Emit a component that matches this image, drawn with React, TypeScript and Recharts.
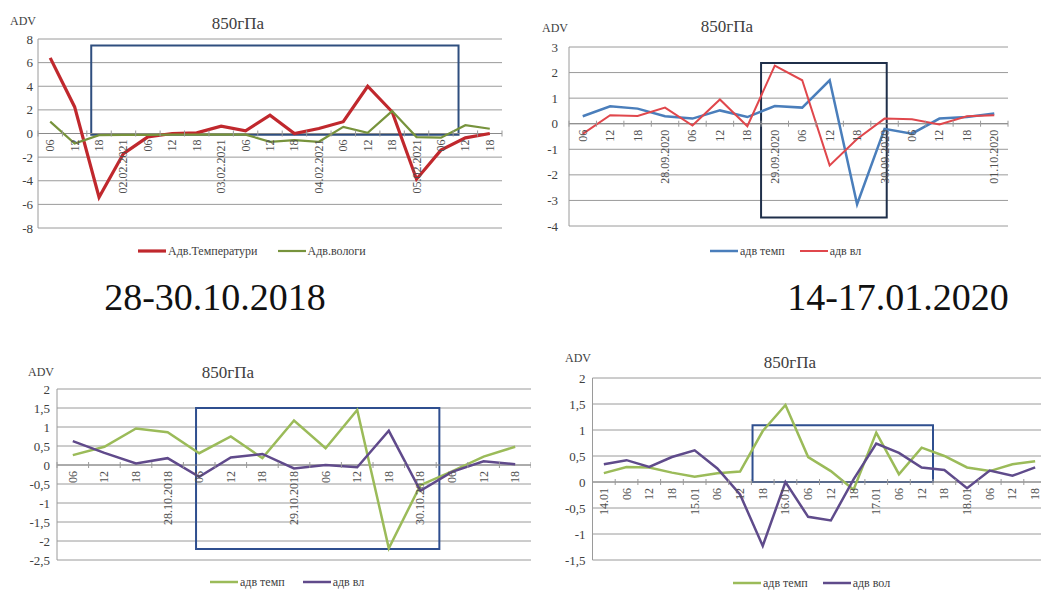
import { LineChart, Line, XAxis, YAxis, CartesianGrid, ReferenceLine, ReferenceArea, ReferenceDot, Legend } from 'recharts';

const FONT = "'Liberation Serif', 'DejaVu Serif', serif";
const TEXT = '#404040';
const GRID = '#9a9a9a';

// 02-05.02.2021, 850 hPa
const p1Categories = ['06', '12', '18', '02.02.2021', '06', '12', '18', '03.02.2021', '06', '12', '18', '04.02.2021', '06', '12', '18', '05.02.2021', '06', '12', '18'];
const p1Temp = [6.4, 2.25, -5.4, -1.7, -0.28, 0.0, 0.05, 0.62, 0.23, 1.55, 0.0, 0.42, 1.0, 4.0, 1.84, -3.87, -1.41, -0.37, 0.0];
const p1Hum = [1.0, -0.85, -0.14, -0.12, -0.12, -0.1, -0.1, -0.1, -0.1, -0.7, -0.56, -0.7, 0.56, 0.05, 1.9, -0.3, -0.35, 0.7, 0.4];
const p1Ticks = [-8, -6, -4, -2, 0, 2, 4, 6, 8];
const p1Box = { x1: 1.68, x2: 16.72, y1: -0.1, y2: 7.45 };

// 28.09-01.10.2020, 850 hPa
const p2Categories = ['06', '12', '18', '28.09.2020', '06', '12', '18', '29.09.2020', '06', '12', '18', '30.09.2020', '06', '12', '18', '01.10.2020'];
const p2Temp = [0.29, 0.68, 0.59, 0.29, 0.2, 0.52, 0.26, 0.69, 0.63, 1.7, -3.15, -0.2, -0.39, 0.2, 0.26, 0.4];
const p2Hum = [-0.4, 0.33, 0.3, 0.63, -0.07, 0.95, -0.1, 2.27, 1.7, -1.63, -0.6, 0.2, 0.17, -0.03, 0.29, 0.33];
const p2Ticks = [-4, -3, -2, -1, 0, 1, 2, 3];
const p2Box = { x1: 6.5, x2: 11.08, y1: -3.67, y2: 2.37 };

// 28-30.10.2018, 850 hPa
const p3Categories = ['06', '12', '18', '28.10.2018', '06', '12', '18', '29.10.2018', '06', '12', '18', '30.10.2018', '06', '12', '18'];
const p3Temp = [0.26, 0.48, 0.96, 0.86, 0.31, 0.75, 0.18, 1.17, 0.44, 1.45, -2.19, -0.53, -0.17, 0.22, 0.48];
const p3Hum = [0.63, 0.32, 0.04, 0.18, -0.31, 0.2, 0.29, -0.09, 0.0, -0.06, 0.9, -0.68, -0.18, 0.1, 0.02];
const p3Ticks = [-2.5, -2, -1.5, -1, -0.5, 0, 0.5, 1, 1.5, 2];
const p3Box = { x1: 3.9, x2: 11.6, y1: -2.21, y2: 1.5 };

// 14-17.01.2020, 850 hPa
const p4Categories = ['14.01', '06', '12', '18', '15.01', '06', '12', '18', '16.01', '06', '12', '18', '17.01', '06', '12', '18', '18.01', '06', '12', '18'];
const p4Temp = [0.17, 0.29, 0.28, 0.18, 0.1, 0.17, 0.2, 0.98, 1.48, 0.48, 0.21, -0.15, 0.95, 0.15, 0.66, 0.5, 0.28, 0.21, 0.34, 0.4];
const p4Hum = [0.34, 0.42, 0.29, 0.48, 0.61, 0.26, -0.24, -1.23, 0.0, -0.67, -0.74, 0.05, 0.74, 0.56, 0.28, 0.23, -0.12, 0.22, 0.12, 0.28];
const p4Ticks = [-1.5, -1, -0.5, 0, 0.5, 1, 1.5, 2];
const p4Box = { x1: 6.55, x2: 14.5, y1: 0, y2: 1.09 };

interface SeriesDef {
  key: string;
  name: string;
  color: string;
  width: number;
  values: number[];
}

interface Box {
  x1: number;
  x2: number;
  y1: number;
  y2: number;
}

interface PanelProps {
  left: number;
  top: number;
  width: number;
  height: number;
  margin: { top: number; right: number; bottom: number; left: number };
  yWidth: number;
  tickGap: number;
  categories: string[];
  series: SeriesDef[];
  yTicks: number[];
  box: Box;
  boxColor: string;
  titleAt: { x: number; y: number };
  advAt: { x: number; y: number };
  legendAt: { x: number; y: number; gap: number };
}

const comma = (v: number) => String(v).replace('.', ',');

// rotated category label hanging under the zero line
const CategoryLabel = (props: any) => {
  const { cx, cy, text } = props;
  const y = cy + 6;
  return (
    <text
      x={cx}
      y={y}
      transform={`rotate(-90 ${cx} ${y})`}
      textAnchor="end"
      dominantBaseline="central"
      fontSize={12}
      style={{ fontFamily: FONT }}
      fill="#505050"
    >
      {text}
    </text>
  );
};

const AxisTick = (props: any) => {
  const { cx, cy } = props;
  return <line x1={cx} x2={cx} y1={cy - 3} y2={cy + 3} stroke={GRID} strokeWidth={1} />;
};

const Panel = ({
  left, top, width, height, margin, yWidth, tickGap,
  categories, series, yTicks, box, boxColor, titleAt, advAt, legendAt,
}: PanelProps) => {
  const rows = categories.map((label, i) => {
    const row: Record<string, number | string> = { i, label };
    series.forEach((s) => { row[s.key] = s.values[i]; });
    return row;
  });
  const n = categories.length;
  const yMin = yTicks[0];
  const yMax = yTicks[yTicks.length - 1];

  // keep the legend in series order
  const legendContent = () => (
    <div style={{ display: 'flex', alignItems: 'center', gap: legendAt.gap, fontFamily: FONT, fontSize: 12, color: TEXT, whiteSpace: 'nowrap', height: 14 }}>
      {series.map((s) => (
        <span key={s.key} style={{ display: 'flex', alignItems: 'center' }}>
          <svg width={28} height={6}>
            <line x1={0} x2={28} y1={3} y2={3} stroke={s.color} strokeWidth={s.width} />
          </svg>
          <span style={{ marginLeft: 2 }}>{s.name}</span>
        </span>
      ))}
    </div>
  );

  return (
    <div style={{ position: 'absolute', left, top, width, height, fontFamily: FONT }}>
      <LineChart width={width} height={height} data={rows} margin={margin} style={{ fontFamily: FONT }}>
        <CartesianGrid horizontal vertical={false} stroke={GRID} />
        <XAxis type="number" dataKey="i" domain={[-0.5, n - 0.5]} allowDataOverflow hide />
        <YAxis
          type="number"
          domain={[yMin, yMax]}
          ticks={yTicks}
          interval={0}
          allowDataOverflow
          width={yWidth}
          tickFormatter={comma}
          axisLine={{ stroke: GRID }}
          tickLine={false}
          tickSize={0}
          tickMargin={tickGap}
          tick={{ fontSize: 13, fill: TEXT, style: { fontFamily: FONT } }}
        />
        <ReferenceLine y={0} stroke="#8a8a8a" />
        {Array.from({ length: n + 1 }, (_, k) => (
          <ReferenceDot key={`t${k}`} x={k - 0.5} y={0} r={0} ifOverflow="visible" shape={AxisTick} />
        ))}
        {categories.map((c, i) => (
          <ReferenceDot key={`c${i}`} x={i} y={0} r={0} ifOverflow="visible" shape={(p: any) => <CategoryLabel {...p} text={c} />} />
        ))}
        {series.map((s) => (
          <Line
            key={s.key}
            type="linear"
            dataKey={s.key}
            name={s.name}
            stroke={s.color}
            strokeWidth={s.width}
            dot={false}
            activeDot={false}
            isAnimationActive={false}
          />
        ))}
        <ReferenceArea
          x1={box.x1}
          x2={box.x2}
          y1={box.y1}
          y2={box.y2}
          fill="none"
          fillOpacity={0}
          stroke={boxColor}
          strokeWidth={2}
          ifOverflow="visible"
        />
        <Legend
          layout="horizontal"
          verticalAlign="middle"
          align="center"
          content={legendContent}
          wrapperStyle={{ left: legendAt.x, top: legendAt.y - 7, width: 'auto', height: 14 }}
        />
      </LineChart>
      <div style={{ position: 'absolute', left: titleAt.x - 60, top: titleAt.y - 11, width: 120, textAlign: 'center', fontSize: 17, color: TEXT, lineHeight: '22px' }}>
        850гПа
      </div>
      <div style={{ position: 'absolute', left: advAt.x, top: advAt.y - 8, fontSize: 12, color: TEXT, lineHeight: '16px' }}>
        ADV
      </div>
    </div>
  );
};

const Caption = ({ x, y, text }: { x: number; y: number; text: string }) => (
  <div style={{ position: 'absolute', left: x - 160, top: y - 22, width: 320, textAlign: 'center', fontFamily: FONT, fontSize: 38, lineHeight: '44px', color: '#111' }}>
    {text}
  </div>
);

export default function App() {
  return (
    <div style={{ position: 'absolute', left: 0, top: 0, width: 1041, height: 591, overflow: 'hidden', background: '#fff', fontFamily: FONT }}>
      <Panel
        left={0}
        top={0}
        width={520}
        height={265}
        margin={{ top: 39, right: 18, bottom: 37, left: 8 }}
        yWidth={30}
        tickGap={5}
        categories={p1Categories}
        yTicks={p1Ticks}
        series={[
          { key: 'temp', name: 'Адв.Температури', color: '#c0282d', width: 3.2, values: p1Temp },
          { key: 'hum', name: 'Адв.вологи', color: '#77933c', width: 2.2, values: p1Hum },
        ]}
        box={p1Box}
        boxColor="#2f4f7f"
        titleAt={{ x: 238, y: 24 }}
        advAt={{ x: 10, y: 21 }}
        legendAt={{ x: 138, y: 251, gap: 20 }}
      />
      <Panel
        left={520}
        top={0}
        width={521}
        height={265}
        margin={{ top: 47, right: 33, bottom: 39, left: 19 }}
        yWidth={30}
        tickGap={11}
        categories={p2Categories}
        yTicks={p2Ticks}
        series={[
          { key: 'temp', name: 'адв темп', color: '#4a7ebb', width: 2.5, values: p2Temp },
          { key: 'hum', name: 'адв вл', color: '#e0474c', width: 2, values: p2Hum },
        ]}
        box={p2Box}
        boxColor="#1f2f4a"
        titleAt={{ x: 207, y: 27 }}
        advAt={{ x: 22, y: 28 }}
        legendAt={{ x: 190, y: 251, gap: 15 }}
      />
      <Caption x={215} y={297} text="28-30.10.2018" />
      <Caption x={898} y={297} text="14-17.01.2020" />
      <Panel
        left={0}
        top={330}
        width={531}
        height={261}
        margin={{ top: 59, right: 0, bottom: 31, left: 27 }}
        yWidth={30}
        tickGap={7}
        categories={p3Categories}
        yTicks={p3Ticks}
        series={[
          { key: 'temp', name: 'адв темп', color: '#9bbb59', width: 2.5, values: p3Temp },
          { key: 'hum', name: 'адв вл', color: '#604a8b', width: 2.5, values: p3Hum },
        ]}
        box={p3Box}
        boxColor="#2f4f8f"
        titleAt={{ x: 228, y: 43 }}
        advAt={{ x: 28, y: 42 }}
        legendAt={{ x: 210, y: 252, gap: 18 }}
      />
      <Panel
        left={520}
        top={330}
        width={530}
        height={261}
        margin={{ top: 48, right: 3.5, bottom: 31, left: 42.5 }}
        yWidth={30}
        tickGap={7}
        categories={p4Categories}
        yTicks={p4Ticks}
        series={[
          { key: 'temp', name: 'адв темп', color: '#9bbb59', width: 2.5, values: p4Temp },
          { key: 'hum', name: 'адв вол', color: '#5f4b8b', width: 2.5, values: p4Hum },
        ]}
        box={p4Box}
        boxColor="#2f4f8f"
        titleAt={{ x: 270, y: 33 }}
        advAt={{ x: 45, y: 28 }}
        legendAt={{ x: 213, y: 253, gap: 15 }}
      />
    </div>
  );
}
